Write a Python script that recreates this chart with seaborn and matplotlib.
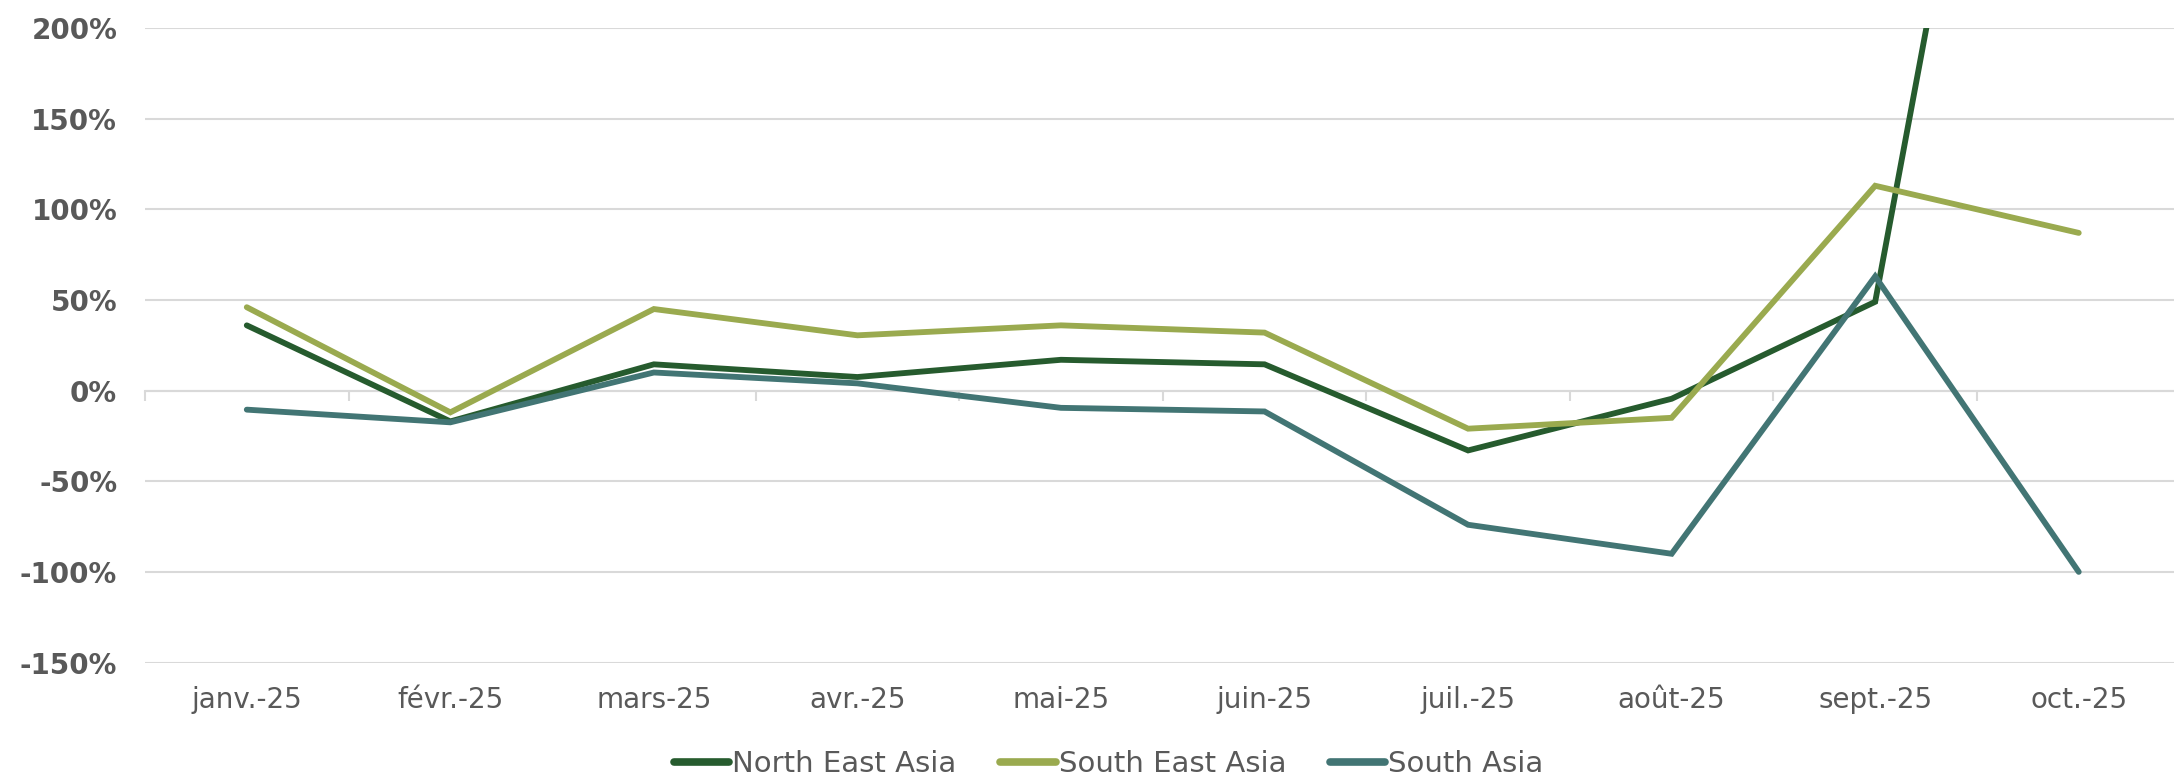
import seaborn as sns
import matplotlib.pyplot as plt
import pandas as pd

months = ["janv.-25", "févr.-25", "mars-25", "avr.-25", "mai-25",
          "juin-25", "juil.-25", "août-25", "sept.-25", "oct.-25"]
north_east_asia = [36, -17, 14.5, 7.5, 17, 14.5, -33, -4.5, 49, 650]
south_east_asia = [46, -12, 45, 30.5, 36, 32, -21, -15, 113, 87]
south_asia = [-10.5, -17.5, 10, 4, -9.5, -11.5, -74, -90, 63, -100]

series = {"North East Asia": north_east_asia,
          "South East Asia": south_east_asia,
          "South Asia": south_asia}
colors = {"North East Asia": "#265B2E",
          "South East Asia": "#9AAA4F",
          "South Asia": "#427574"}

df = pd.DataFrame([
    {"month": m, "region": name, "value": v / 100}
    for name, vals in series.items() for m, v in zip(months, vals)
])

sns.set_style("white")
plt.rcParams["font.family"] = ["DejaVu Sans"]

fig = plt.figure(figsize=(21.74, 7.79), dpi=100)
ax = fig.add_axes([0.0667, 0.1495, 0.9363, 0.8145])

sns.lineplot(data=df, x="month", y="value", hue="region", palette=colors,
             sort=False, linewidth=4.2, ax=ax, legend=False)
for line in ax.get_lines():
    line.set_solid_capstyle("round")
    line.set_solid_joinstyle("miter")

ax.set_xlim(-0.5, len(months) - 0.5)
ax.set_ylim(-1.5, 2.0)
ax.set_yticks([-1.5, -1.0, -0.5, 0, 0.5, 1.0, 1.5, 2.0])
ax.set_yticklabels([f"{int(round(t * 100))}%" for t in ax.get_yticks()],
                   fontsize=20, fontweight="bold", color="#595959")
ax.yaxis.grid(True, color="#D9D9D9", linewidth=1.5)
ax.set_axisbelow(True)
ax.tick_params(axis="y", length=0, pad=20)
ax.tick_params(axis="x", length=0, pad=17, labelsize=20, labelcolor="#595959")
ax.set_xlabel("")
ax.set_ylabel("")
for s in ax.spines.values():
    s.set_visible(False)

# category axis drawn at 0% with boundary tick marks (Excel style)
sec = ax.secondary_xaxis(1.5 / 3.5)
sec.set_xticks([i - 0.5 for i in range(len(months) + 1)])
sec.set_xticklabels([])
sec.tick_params(axis="x", direction="out", length=7, width=1.5, color="#D9D9D9")
sec.spines["bottom"].set_color("#D9D9D9")
sec.spines["bottom"].set_linewidth(1.5)

handles = [plt.Line2D([], [], color=colors[n], linewidth=5.5,
                      solid_capstyle="round") for n in series]
fig.legend(handles, list(series), loc="center", bbox_to_anchor=(0.51, 0.019),
           ncol=3, frameon=False, handlelength=1.9, handletextpad=0.1,
           columnspacing=1.5, prop={"size": 21}, labelcolor="#595959")

fig.savefig("out.png", dpi=100)
